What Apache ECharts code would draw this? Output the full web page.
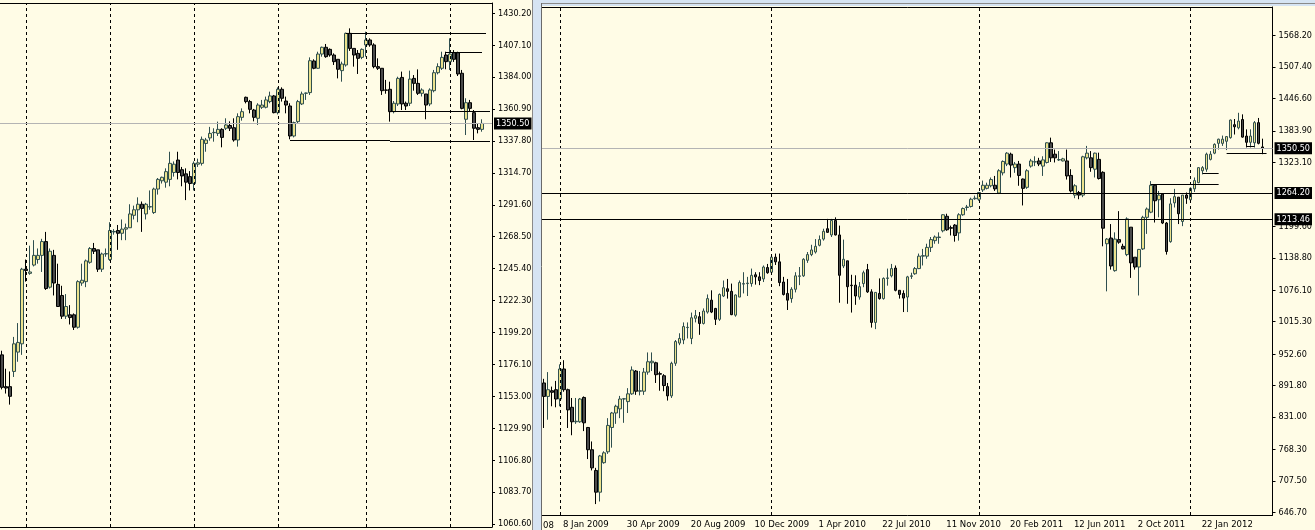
<!DOCTYPE html>
<html><head><meta charset="utf-8">
<script src="https://cdn.jsdelivr.net/npm/echarts@6/dist/echarts.min.js"></script>
<style>html,body{margin:0;padding:0;background:#fffce6;overflow:hidden}#c{width:1315px;height:530px}</style>
</head><body><div id="c"></div>
<script>
// ---- DATA ----  each candle: [open, close, low, high]
const dailyOHLC = [
[1183,1159.5,1158,1186],[1160,1159,1155,1173],[1160,1153,1147,1171],[1171,1191,1167,1196],[1185,1192,1178,1206],
[1191,1245,1183,1246],[1245,1244,1236,1252],[1242,1243,1241,1262],[1248,1255,1247,1266],[1252,1255,1249,1260],
[1255,1265,1243,1267],[1265,1231,1230,1272],[1232,1258,1231,1260],[1255,1235,1226,1259],[1234,1218,1218,1249],
[1226,1211,1209,1233],[1211,1218,1209,1227],[1212,1210,1205,1219],[1212,1203,1201,1213],[1203,1236,1202,1237],
[1235,1237,1233,1249],[1236,1251,1232,1252],[1250,1260,1249,1261],[1260,1258,1256,1264],[1259,1245,1243,1259],
[1245,1256,1243,1257],[1256,1256.3,1254,1260],[1252,1273,1251,1279],[1272,1272.3,1270,1274],[1273,1271,1259,1277],
[1271,1274,1266,1281],[1274,1275,1266,1278],[1275,1285,1275,1292],[1284,1288,1281,1291],[1288,1292,1279,1297],
[1292,1289,1272,1294],[1285,1292,1281,1293],[1290,1290.3,1288,1302],[1286,1303,1285,1304],[1303,1310,1299,1311],
[1309,1311.5,1307,1312],[1308,1315.6,1304,1318],[1310,1321.6,1305,1330],[1315,1321,1312,1323],[1324,1315,1310,1330],
[1317,1312.5,1305,1319],[1314,1308,1295,1318],[1312,1307,1302,1316],[1307,1321.6,1302,1323],[1321,1322,1319,1325],
[1321.6,1339,1320,1341],[1336,1338.5,1330,1340],[1340,1343.3,1338,1348],[1343.8,1344,1337.3,1347],[1343.3,1346.2,1341.4,1351.8],
[1346.2,1340.4,1333.2,1347],[1347,1349.4,1345.7,1354.2],[1349,1347,1345,1352],[1347.4,1338.5,1337.3,1354.2],[1338.5,1355.4,1333.7,1357.8],
[1354.9,1359,1352.5,1361.4],[1369.4,1366.3,1365,1369.9],[1366.3,1360.7,1357.8,1367.5],[1360.2,1354.9,1352,1361],[1354.2,1363.8,1349.4,1365.1],
[1362.2,1363.8,1361,1367.5],[1362.2,1367.5,1361.4,1369.9],[1366.3,1370.4,1365.1,1373.5],[1370.4,1358.3,1357.8,1371.1],[1358.3,1375.2,1357,1376.6],
[1375.2,1368.7,1366.3,1376.6],[1366.7,1363.8,1357.8,1369.9],[1363.1,1341.4,1339,1365.1],[1341.4,1351.1,1340.4,1351.8],[1351.8,1366.3,1350.1,1367.5],
[1364.6,1371.8,1363.8,1373.5],[1372.3,1372.5,1367.5,1372.8],[1372.8,1395.9,1371.1,1398.3],[1395.7,1390.4,1389.7,1396.9],[1390.4,1400.7,1390,1402.4],
[1400.7,1405.6,1398.8,1406.1],[1405.6,1398.8,1398,1408],[1404.1,1400,1398.8,1404.8],[1400,1395.2,1392.8,1401.2],[1396.9,1389.7,1383.1,1396.9],
[1388.7,1393.5,1380.7,1395.2],[1392.8,1415.7,1391.6,1416.2],[1415.7,1404.8,1403,1419.3],[1404.8,1400,1391.6,1404.8],[1401.2,1397.6,1386.3,1403.6],
[1398.3,1404.1,1397,1404.8],[1407.3,1410.9,1398.8,1416.9],[1410.9,1407.3,1406,1412.1],[1407.3,1391.6,1390.4,1408.5],[1391.6,1390.4,1389.2,1397.6],
[1390.4,1374.2,1371.1,1390.4],[1374.7,1374.5,1372,1382],[1375.2,1359,1351.8,1380.7],[1359,1365.1,1357.8,1366.7],[1364.6,1383.1,1363.1,1384.3],
[1383.8,1364.6,1360.2,1388],[1365.1,1363.1,1360.2,1366.3],[1365.1,1382.6,1363.1,1388.7],[1383.1,1379.5,1374.2,1385.5],[1379.5,1372.3,1371.1,1389.6],
[1372.3,1374.7,1370,1375.9],[1371.8,1363.8,1353.5,1371.8],[1364.6,1374.7,1363,1375.9],[1374.2,1387.2,1373,1389.2],[1387.2,1391.6,1386,1394],
[1390.4,1398.3,1389.2,1402.4],[1400,1395.2,1389.7,1402.4],[1395.2,1400.7,1389.2,1412.1],[1401.7,1396.9,1395,1403.6],[1401.7,1386.3,1384.8,1402.4],
[1386.8,1361.4,1360.7,1389.2],[1353.5,1365.5,1342.1,1368.7],[1365.5,1361.4,1359,1367.5],[1358.3,1347,1338.5,1360.2],[1347.4,1346.2,1343.3,1350.1],
[1346.2,1350.5,1344.5,1353.5]
];
const weeklyOHLC = [
[897,871,810,905],[871,884,826,918],[882,879,852,890],[884,866,850,901],[866,924,852,933],
[924,884,880,941],[884,845,810,886],[850,822,796,868],[822,823,818,868],[822,866,820,868],
[869,820,804,871],[811,768,750,812],[768,733,728,784],[728,686,663,733],[686,756,668,758],
[743,762,741,765],[764,815,760,829],[811,839,772,841],[839,852,818,855],[847,866,829,872],
[866,866.5,820,868],[861,876,839,887],[876,922,874,929],[920,881,874,922],[881,882,873,920],
[881,918,874,926],[918,938,913,956],[936,939,920,956],[936,913,897,938],[915,914,882,919],
[911,892,881,914],[890,872,863,897],[872,935,868,938],[935,977,930,980],[974,983,970,993],
[980,1006,972,1014],[1004,1004.5,983,1014],[983,1023,972,1033],[1022,1027,1014,1038],[1025,1012,990,1034],
[1012,1036,1010,1041],[1034,1060,1031,1068],[1057,1034,1032,1076],[1041,1020,1009,1042],[1020,1068,1017,1070],
[1065,1081,1063,1095],[1079,1074,1060,1098],[1074,1029,1028,1089],[1028,1067,1025,1068],[1063,1091,1063,1095],
[1088,1089,1070,1111],[1089,1090,1065,1102],[1089,1105,1083,1118],[1106,1102,1087,1111],[1102,1095,1086,1111],
[1098,1121,1092,1124],[1120,1110,1108,1127],[1111,1140,1108,1143],[1140,1131,1125,1147],[1131,1091,1084,1147],
[1092,1068,1066,1102],[1070,1057,1038,1098],[1060,1078,1052,1082],[1078,1104,1072,1111],[1103,1104,1086,1121],
[1104,1136,1102,1138],[1134,1145,1129,1150],[1145,1154,1142,1164],[1150,1161,1147,1175],[1163,1174,1161,1182],
[1175,1190,1172,1195],[1195,1188,1187,1214],[1183,1211,1179,1214],[1211,1183,1182,1217],[1183,1105,1052,1201],
[1123,1136,1119,1174],[1133,1083,1050,1133],[1086,1085,1033,1106],[1086,1065,1048,1105],[1063,1083,1058,1092],
[1089,1110,1082,1114],[1116,1073,1071,1127],[1073,1014,1004,1078],[1014,1072,1001,1072],[1070,1060,1058,1099],
[1060,1099,1058,1101],[1099,1100,1085,1118],[1104,1118,1101,1127],[1119,1076,1074,1124],[1076,1068,1060,1076],
[1070,1061,1034,1076],[1063,1102,1034,1104],[1103,1104,1098,1110],[1108,1118,1106,1121],[1118,1142,1117,1147],
[1142,1143,1124,1156],[1142,1159,1137,1166],[1159,1174,1150,1179],[1172,1179,1166,1182],[1178,1179,1166,1188],
[1191,1222,1188,1223],[1219,1193,1191,1224],[1197,1196,1182,1201],[1202,1182,1170,1204],[1187,1222,1172,1225],
[1222,1234,1220,1236],[1236,1237,1230,1241],[1238,1252,1236,1255],[1253,1254,1251,1259],[1252,1265,1249,1266],
[1270,1279,1266,1288],[1273,1279,1271,1284],[1278,1290,1275,1294],[1279,1272,1268,1297],[1264,1307,1262,1310],
[1303,1325,1298,1327],[1320,1341,1316,1343],[1339,1318,1294,1342],[1313,1320,1303,1324],[1320,1298,1278,1326],
[1291,1273,1240,1292],[1275,1307,1272,1310],[1316,1326,1313,1330],[1324,1324.5,1316,1335],[1326,1320,1316,1332],
[1316,1328,1297,1335],[1323,1361,1321,1362],[1361,1332,1324,1371],[1339,1332,1323,1348],[1328,1328.5,1326,1345],
[1326,1330,1325,1332],[1326,1297,1290,1348],[1298,1268,1265,1310],[1260,1278,1254,1281],[1265,1260,1252,1268],
[1260,1334,1256,1336],[1332,1341,1329,1355],[1332,1313,1305,1345],[1310,1341,1294,1342],[1329,1292,1290,1342],
[1304,1196,1161,1306],[1166,1175,1074,1177],[1177,1123,1116,1204],[1114,1175,1112,1188],[1174,1169,1166,1229],
[1161,1156,1155,1166],[1145,1214,1142,1217],[1198,1129,1100,1198],[1140,1121,1116,1140],[1121,1155,1066,1156],
[1156,1217,1154,1220],[1217,1233,1185,1236],[1227,1279,1225,1287],[1279,1249,1207,1281],[1251,1260,1217,1268],
[1262,1206,1204,1262],[1206,1151,1145,1208],[1170,1243,1168,1254],[1245,1257,1236,1272],[1256,1224,1204,1256],
[1209,1260,1200,1260],[1260,1254,1243,1265],[1251,1273,1249,1275],[1272,1288,1266,1294],[1284,1313,1283,1314],
[1307,1313,1300,1316],[1310,1339,1305,1342],[1329,1339,1327,1345],[1341,1358,1339,1360],[1360,1368,1348,1369],
[1360,1368,1355,1375],[1364,1373,1347,1374],[1371,1405,1369,1406],[1396,1392,1377,1407],[1390,1403,1387,1419],
[1406,1372,1371,1416],[1374,1362,1352,1387],[1362,1374,1352,1387],[1361,1400,1352,1403],[1400,1360,1358,1409],
[1353,1350.5,1339,1369]
];
const leftPriceTicks = [1060.6,1083.7,1106.8,1129.9,1153.0,1176.1,1199.2,1222.3,1245.4,1268.5,1291.6,1314.7,1337.8,1360.9,1384.0,1407.1,1430.2];
const rightPriceTicks = [646.7,707.5,768.3,831.0,891.8,952.6,1015.3,1076.1,1138.8,1199.6,1323.1,1383.9,1446.6,1507.4,1568.2];
const weekDateLabels = [[4,'8 Jan 2009'],[20,'30 Apr 2009'],[36,'20 Aug 2009'],[52,'10 Dec 2009'],[68,'1 Apr 2010'],[84,'22 Jul 2010'],
  [100,'11 Nov 2010'],[116,'20 Feb 2011'],[132,'12 Jun 2011'],[148,'2 Oct 2011'],[164,'22 Jan 2012']];
const clippedDateLabel = '08';
const leftTickBars = [9,25,41,57,73,89,105,121];
const monthSeparators = [6,27,48,69,91,112];
const yearSeparators = [4,57,109,162];
const lastPrice = 1350.50;
const rightLevels = [1264.20, 1213.46];
const leftSegments = [[86,121,1415.7],[111,120,1402.0],[97,122,1359.5],[72,97,1338.5],[97,122,1337.3]];
const rightSegments = [[152,169,1281.2],[165,169,1301.7],[171,181,1340.8],[176,178,1354.8]];
const leftSlots = 123, rightSlots = 183;

// ---- CHART ----
const FONT = '"DejaVu Sans Condensed", "Liberation Sans", sans-serif';
const FS = 9;
const leftCats = Array.from({length:leftSlots},(_,i)=>String(i));
const rightCats = Array.from({length:rightSlots},(_,i)=>String(i));
const dateMap = Object.fromEntries(weekDateLabels);
const priceLabel = (v)=>({show:true,position:'end',distance:2,formatter:()=>v.toFixed(2),color:'#fff',backgroundColor:'#000',
  padding:[1,2,0,2],fontSize:FS,fontFamily:FONT,lineHeight:11});
const candleStyle = {color:'#ebe28d',color0:'#4a4a4a',borderColor:'#2f4f4f',borderColor0:'#000',borderWidth:1};
const dash = {type:[3,3],color:'#000',width:1};

function segs(list){return list.map(s=>[{coord:[s[0],s[2]]},{coord:[s[1],s[2]]}]);}

const option = {
  animation:false,
  backgroundColor:'#fffce6',
  grid:[
    {left:0,top:3,width:492,height:524},
    {left:542,top:7,width:732,height:510.5}
  ],
  xAxis:[
    {type:'category',gridIndex:0,data:leftCats,boundaryGap:true,
     axisLine:{lineStyle:{color:'#000',width:1}},
     axisTick:{alignWithLabel:true,length:4,interval:(i)=>leftTickBars.includes(i),lineStyle:{color:'#000'}},
     axisLabel:{show:false},splitLine:{show:false}},
    {type:'category',gridIndex:1,data:rightCats,boundaryGap:true,
     axisLine:{lineStyle:{color:'#000',width:1}},
     axisTick:{alignWithLabel:true,length:4,interval:(i)=>dateMap[i]!==undefined,lineStyle:{color:'#000'}},
     axisLabel:{interval:(i)=>dateMap[i]!==undefined,formatter:(v)=>dateMap[+v]||'',align:'left',padding:[0,0,0,3],
       margin:5,color:'#000',fontSize:FS+0.5,fontFamily:FONT,hideOverlap:false},
     splitLine:{show:false}},
    {type:'category',gridIndex:0,position:'top',data:leftCats,axisLine:{lineStyle:{color:'#000'}},axisTick:{show:false},axisLabel:{show:false}},
    {type:'category',gridIndex:1,position:'top',data:rightCats,axisLine:{lineStyle:{color:'#000'}},axisTick:{show:false},axisLabel:{show:false}}
  ],
  yAxis:[
    {type:'value',gridIndex:0,position:'right',min:1058.43,max:1437.65,
     axisLine:{show:true,lineStyle:{color:'#000'}},
     axisTick:{show:true,length:3,customValues:leftPriceTicks,lineStyle:{color:'#000'}},
     axisLabel:{customValues:leftPriceTicks,formatter:(v)=>v.toFixed(2),margin:6,color:'#000',fontSize:FS,fontFamily:FONT},
     splitLine:{show:false}},
    {type:'value',gridIndex:1,position:'right',min:641.9,max:1623.4,
     axisLine:{show:true,lineStyle:{color:'#000'}},
     axisTick:{show:true,length:3,customValues:rightPriceTicks,lineStyle:{color:'#000'}},
     axisLabel:{customValues:rightPriceTicks,formatter:(v)=>v.toFixed(2),margin:6,color:'#000',fontSize:FS,fontFamily:FONT},
     splitLine:{show:false}}
  ],
  series:[
    {type:'candlestick',xAxisIndex:0,yAxisIndex:0,data:dailyOHLC,barWidth:3,itemStyle:candleStyle,
     markLine:{silent:true,symbol:['none','none'],animation:false,label:{show:false},
       lineStyle:{color:'#000',width:1,type:'solid'},emphasis:{disabled:true},
       data:[
         ...monthSeparators.map(i=>({xAxis:i,lineStyle:dash})),
         {yAxis:lastPrice,lineStyle:{color:'#b4b4b4',type:'solid',width:1},label:priceLabel(lastPrice)},
         ...segs(leftSegments)
       ]}},
    {type:'candlestick',xAxisIndex:1,yAxisIndex:1,data:weeklyOHLC,barWidth:3,itemStyle:candleStyle,
     markLine:{silent:true,symbol:['none','none'],animation:false,label:{show:false},
       lineStyle:{color:'#000',width:1,type:'solid'},emphasis:{disabled:true},
       data:[
         ...yearSeparators.map(i=>({xAxis:i,lineStyle:dash})),
         {yAxis:lastPrice,lineStyle:{color:'#b4b4b4',type:'solid',width:1},label:priceLabel(lastPrice)},
         ...rightLevels.map(v=>({yAxis:v,lineStyle:{color:'#000',type:'solid',width:1},label:priceLabel(v)})),
         ...segs(rightSegments)
       ]}}
  ],
  graphic:[
    {type:'rect',shape:{x:532,y:0,width:9,height:530},style:{fill:'#d6e4f3'},z:100},
    {type:'line',shape:{x1:532.5,y1:0,x2:532.5,y2:530},style:{stroke:'#8a8a8a',lineWidth:1},z:101},
    {type:'rect',shape:{x:541,y:0,width:774,height:6},style:{fill:'#d6e4f3'},z:100},
    {type:'line',shape:{x1:541,y1:3.5,x2:1315,y2:3.5},style:{stroke:'#8a8a8a',lineWidth:1},z:101},
    {type:'line',shape:{x1:541.5,y1:3,x2:541.5,y2:530},style:{stroke:'#6a6a6a',lineWidth:1},z:101},
    {type:'text',x:543,y:521,style:{text:clippedDateLabel,fill:'#000',font:'9.5px "DejaVu Sans Condensed", "Liberation Sans"'},z:101}
  ]
};
const chart = echarts.init(document.getElementById('c'));
chart.setOption(option);
</script></body></html>
